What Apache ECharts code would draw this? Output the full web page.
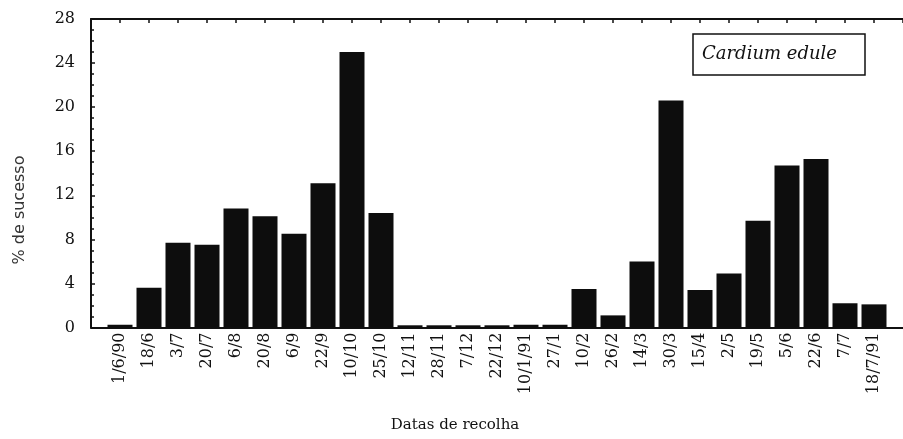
<!DOCTYPE html>
<html>
<head>
<meta charset="utf-8">
<script src="https://cdn.jsdelivr.net/npm/echarts@6/dist/echarts.min.js"></script>
<style>
  html, body { margin: 0; padding: 0; background: #fff; }
  #chart { width: 903px; height: 439px; }
</style>
</head>
<body>
<div id="chart"></div>
<script>
// Collection dates (Datas de recolha)
const categories = ['1/6/90','18/6','3/7','20/7','6/8','20/8','6/9','22/9','10/10','25/10',
  '12/11','28/11','7/12','22/12','10/1/91','27/1','10/2','26/2','14/3','30/3',
  '15/4','2/5','19/5','5/6','22/6','7/7','18/7/91'];
// % de sucesso
const successValues = [0.25, 3.6, 7.7, 7.5, 10.8, 10.1, 8.5, 13.1, 25.0, 10.4,
  0.2, 0.2, 0.2, 0.2, 0.25, 0.25, 3.5, 1.1, 6.0, 20.6,
  3.4, 4.9, 9.7, 14.7, 15.3, 2.2, 2.1];
const yTicks = [0, 4, 8, 12, 16, 20, 24, 28];
const seriesName = 'Cardium edule';
const yTitle = '% de sucesso';
const xTitle = 'Datas de recolha';

const chart = echarts.init(document.getElementById('chart'), null, { renderer: 'canvas' });

const axisLineStyle = { color: '#111', width: 2 };

chart.setOption({
  animation: false,
  backgroundColor: '#fff',
  grid: { left: 91, top: 19, width: 823, height: 308.5, containLabel: false },
  title: {
    text: seriesName,
    left: 693, top: 34,
    padding: [10, 28, 11, 9],
    borderColor: '#111', borderWidth: 1.5,
    textStyle: { fontFamily: '"DejaVu Serif"', fontStyle: 'italic', fontWeight: 'normal', fontSize: 18, color: '#111', lineHeight: 20 }
  },
  xAxis: [
    {
      type: 'value', position: 'bottom',
      min: -1, max: 27, interval: 1,
      axisLine: { show: true, onZero: false, lineStyle: axisLineStyle },
      axisTick: { show: false },
      splitLine: { show: false },
      axisLabel: {
        rotate: 90, margin: 5,
        fontFamily: '"DejaVu Serif"', fontSize: 16, color: '#111',
        showMinLabel: true, showMaxLabel: true,
        formatter: function (v) {
          const i = Math.round(v);
          return (i >= 0 && i < categories.length) ? categories[i] : '';
        }
      }
    },
    {
      type: 'value', position: 'top',
      min: -1, max: 27, interval: 1,
      axisLine: { show: true, onZero: false, lineStyle: axisLineStyle },
      axisTick: { show: true, inside: true, length: 4, lineStyle: { color: '#111', width: 1.5 } },
      splitLine: { show: false },
      axisLabel: { show: false }
    }
  ],
  yAxis: {
    type: 'value', position: 'left',
    min: yTicks[0], max: yTicks[yTicks.length - 1], interval: yTicks[1] - yTicks[0],
    axisLine: { show: true, onZero: false, lineStyle: axisLineStyle },
    axisTick: { show: true, inside: true, length: 4, lineStyle: { color: '#111', width: 1.5 } },
    minorTick: { show: true, splitNumber: 4, length: 3, lineStyle: { color: '#111', width: 1.5 } },
    splitLine: { show: false },
    axisLabel: { margin: 16, fontFamily: '"DejaVu Serif"', fontSize: 16, color: '#111' }
  },
  graphic: [
    {
      type: 'text', x: 20, y: 210, rotation: Math.PI / 2,
      style: { text: yTitle, font: '16px "DejaVu Sans"', fill: '#333',
        align: 'center', verticalAlign: 'middle', textAlign: 'center', textVerticalAlign: 'middle' }
    },
    {
      type: 'text', x: 455, y: 425,
      style: { text: xTitle, font: '15px "DejaVu Serif"', fill: '#111',
        align: 'center', verticalAlign: 'middle', textAlign: 'center', textVerticalAlign: 'middle' }
    }
  ],
  series: [{
    name: seriesName,
    type: 'bar',
    xAxisIndex: 0,
    barWidth: 25,
    itemStyle: { color: '#0d0d0d' },
    data: successValues.map((v, i) => [i, v])
  }]
});
</script>
</body>
</html>
